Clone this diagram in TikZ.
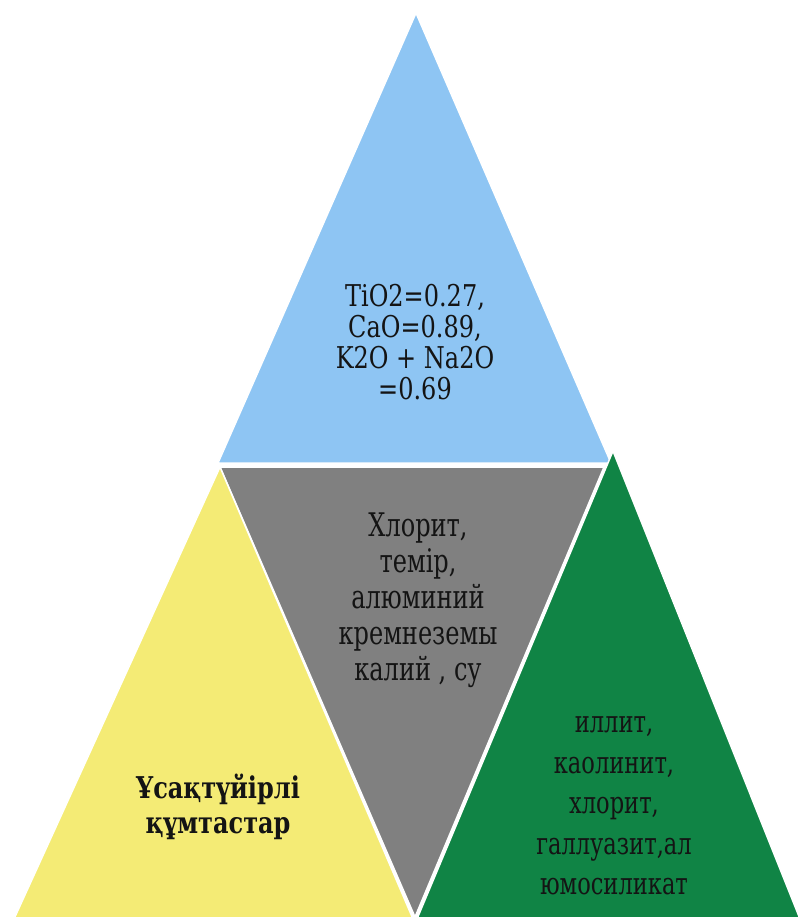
\documentclass[tikz,border=0pt]{standalone}
\usepackage{fontspec}
\setmainfont{DejaVu Serif}
\newfontfamily\labelFontA[FakeStretch=0.8]{DejaVu Serif}
\newfontfamily\labelFontB[FakeStretch=0.74]{DejaVu Serif}
\newfontfamily\labelFontC[FakeStretch=0.8]{DejaVu Serif}
\definecolor{triColorTop}{HTML}{8EC5F3}
\definecolor{triColorMid}{HTML}{808080}
\definecolor{triColorLeft}{HTML}{F4EB75}
\definecolor{triColorRight}{HTML}{108445}
\definecolor{labelTextColor}{HTML}{141414}
\def\textTop{TiO2=0.27,\\CaO=0.89,\\K2O + Na2O\\=0.69}
\def\textMid{Хлорит,\\темір,\\алюминий\\кремнеземы\\калий , су}
\def\textLeft{Ұсақтүйірлі\\құмтастар}
\def\textRight{иллит,\\каолинит,\\хлорит,\\галлуазит,ал\\юмосиликат}

\begin{document}
\begin{tikzpicture}[x=1bp,y=-1bp]
\useasboundingbox (0,0) rectangle (798,917);

% triangle layer
\begin{scope}[draw=white, line width=1.5bp, line join=miter]
\filldraw[fill=triColorTop] (416, 13) -- (611, 463) -- (218, 463) -- cycle;
\filldraw[fill=triColorMid] (220, 467) -- (604, 467) -- (415, 917) -- cycle;
\filldraw[fill=triColorLeft] (220, 467) -- (413, 919) -- (14, 919) -- cycle;
\filldraw[fill=triColorRight] (613, 451) -- (800, 919) -- (417, 919) -- cycle;
\end{scope}

% label layer
\begin{scope}[every node/.style={align=center, inner sep=0pt, text=labelTextColor}]
\node[font=\labelFontA\fontsize{30bp}{31bp}\selectfont] (labelTop) at (415, 342.5) {\textTop};
\node[font=\labelFontB\fontsize{32.5bp}{36bp}\selectfont] (labelMid) at (418, 600) {\textMid};
\node[font=\labelFontC\fontsize{30bp}{35bp}\selectfont\bfseries] (labelLeft) at (218, 807) {\textLeft};
\node[font=\labelFontB\fontsize{30.5bp}{40.5bp}\selectfont] (labelRight) at (614, 806) {\textRight};
\end{scope}

\end{tikzpicture}
\end{document}
